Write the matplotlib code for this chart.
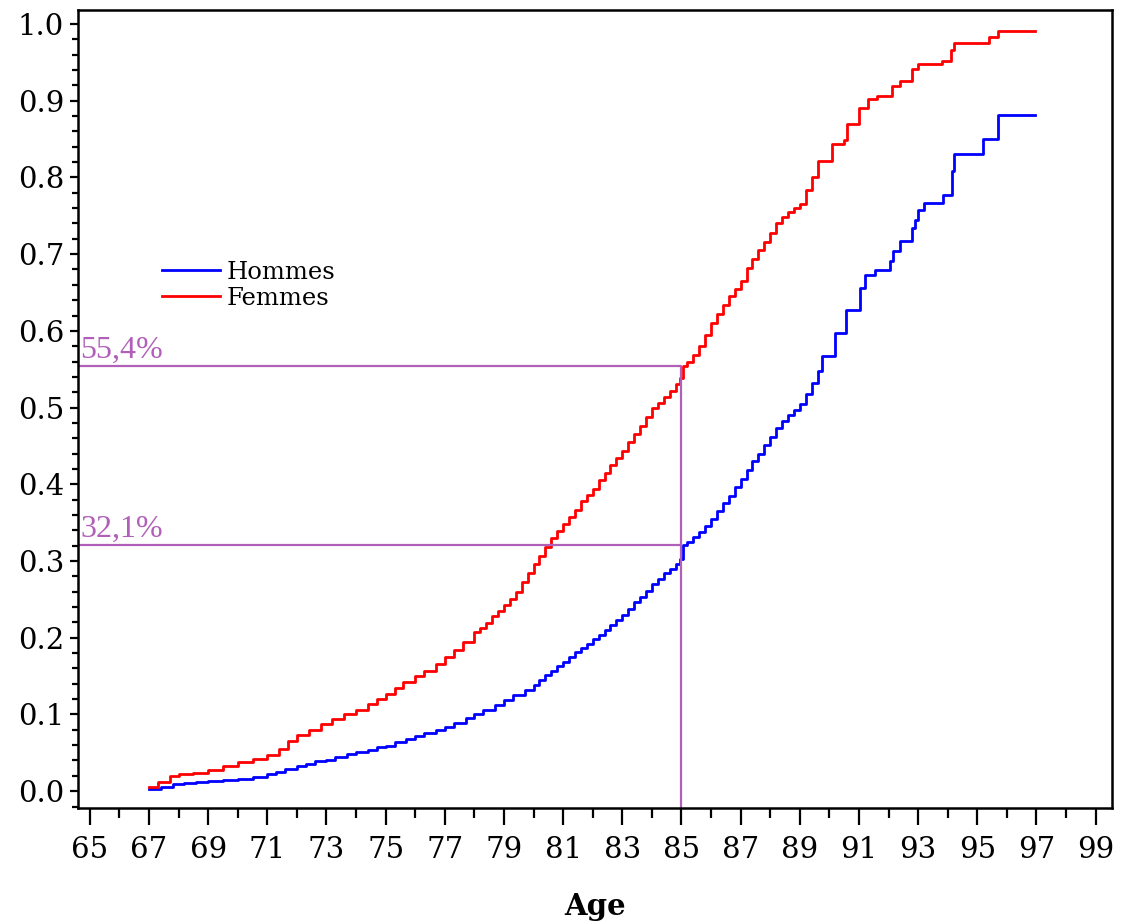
import numpy as np
import matplotlib.pyplot as plt
from matplotlib.ticker import MultipleLocator

# incidence cumulée par âge (lecture du graphique)
age_f = [67.0, 67.3, 67.7, 68.0, 68.5, 69.0, 69.5, 70.0, 70.5, 71.0, 71.4, 71.7,
         72.0, 72.4, 72.8, 73.2, 73.6, 74.0, 74.4, 74.7, 75.0, 75.3, 75.6, 76.0,
         76.3, 76.7, 77.0, 77.3, 77.6, 78.0, 78.2, 78.4, 78.6, 78.8, 79.0, 79.2,
         79.4, 79.6, 79.8, 80.0, 80.2, 80.4, 80.6, 80.8, 81.0, 81.2, 81.4, 81.6,
         81.8, 82.0, 82.2, 82.4, 82.6, 82.8, 83.0, 83.2, 83.4, 83.6, 83.8, 84.0,
         84.2, 84.4, 84.6, 84.8, 84.95, 85.05, 85.2, 85.4, 85.6, 85.8, 86.0, 86.2,
         86.4, 86.6, 86.8, 87.0, 87.2, 87.4, 87.6, 87.8, 88.0, 88.2, 88.4, 88.6,
         88.8, 89.0, 89.2, 89.4, 89.6, 90.1, 90.5, 90.6, 91.0, 91.3, 91.6, 92.1,
         92.4, 92.8, 93.0, 93.8, 94.1, 94.2, 95.4, 95.7, 96.95]
inc_f = [0.005, 0.012, 0.020, 0.022, 0.024, 0.027, 0.033, 0.038, 0.042, 0.047, 0.055, 0.065,
         0.073, 0.080, 0.087, 0.094, 0.100, 0.106, 0.113, 0.120, 0.127, 0.135, 0.142, 0.150,
         0.157, 0.166, 0.175, 0.184, 0.195, 0.207, 0.213, 0.219, 0.228, 0.235, 0.243, 0.251,
         0.260, 0.272, 0.284, 0.296, 0.306, 0.318, 0.330, 0.339, 0.348, 0.357, 0.367, 0.378,
         0.386, 0.394, 0.405, 0.415, 0.425, 0.434, 0.444, 0.455, 0.465, 0.476, 0.488, 0.499,
         0.506, 0.514, 0.522, 0.531, 0.538, 0.554, 0.560, 0.568, 0.580, 0.595, 0.610, 0.622,
         0.634, 0.645, 0.655, 0.665, 0.682, 0.694, 0.705, 0.716, 0.728, 0.740, 0.749, 0.755,
         0.760, 0.765, 0.783, 0.800, 0.822, 0.843, 0.849, 0.870, 0.891, 0.902, 0.906, 0.919,
         0.926, 0.941, 0.948, 0.952, 0.966, 0.975, 0.983, 0.991, 0.991]

age_h = [67.0, 67.4, 67.8, 68.2, 68.6, 69.0, 69.5, 70.0, 70.5, 71.0, 71.3, 71.6,
         72.0, 72.3, 72.6, 73.0, 73.3, 73.7, 74.0, 74.4, 74.7, 75.0, 75.3, 75.7,
         76.0, 76.3, 76.7, 77.0, 77.3, 77.7, 78.0, 78.3, 78.7, 79.0, 79.3, 79.7,
         80.0, 80.2, 80.4, 80.6, 80.8, 81.0, 81.2, 81.4, 81.6, 81.8, 82.0, 82.2,
         82.4, 82.6, 82.8, 83.0, 83.2, 83.4, 83.6, 83.8, 84.0, 84.2, 84.4, 84.6,
         84.8, 84.95, 85.05, 85.2, 85.4, 85.6, 85.8, 86.0, 86.2, 86.4, 86.6, 86.8,
         87.0, 87.2, 87.4, 87.6, 87.8, 88.0, 88.2, 88.4, 88.6, 88.8, 89.0, 89.2,
         89.4, 89.6, 89.75, 90.2, 90.55, 91.05, 91.2, 91.55, 92.05, 92.15, 92.4, 92.8,
         92.9, 93.0, 93.2, 93.85, 94.15, 94.2, 95.2, 95.7, 96.95]
inc_h = [0.003, 0.006, 0.009, 0.011, 0.012, 0.013, 0.014, 0.016, 0.019, 0.022, 0.025, 0.029,
         0.033, 0.036, 0.039, 0.041, 0.045, 0.048, 0.051, 0.054, 0.057, 0.059, 0.064, 0.068,
         0.072, 0.076, 0.080, 0.084, 0.089, 0.095, 0.100, 0.106, 0.112, 0.119, 0.125, 0.132,
         0.139, 0.145, 0.151, 0.157, 0.163, 0.169, 0.175, 0.181, 0.186, 0.192, 0.198, 0.204,
         0.210, 0.216, 0.223, 0.230, 0.238, 0.246, 0.253, 0.261, 0.270, 0.277, 0.284, 0.290,
         0.296, 0.302, 0.321, 0.325, 0.331, 0.338, 0.346, 0.355, 0.365, 0.375, 0.385, 0.396,
         0.407, 0.419, 0.430, 0.440, 0.451, 0.462, 0.473, 0.482, 0.490, 0.497, 0.505, 0.518,
         0.532, 0.548, 0.567, 0.597, 0.627, 0.656, 0.673, 0.679, 0.691, 0.704, 0.717, 0.734,
         0.745, 0.757, 0.766, 0.777, 0.809, 0.830, 0.850, 0.882, 0.882]

age_ref = 85
val_f = 0.554
val_h = 0.321
lab_f = '55,4%'
lab_h = '32,1%'

violet = '#b060b8'

fig = plt.figure(figsize=(11.3, 9.24), dpi=100)
ax = fig.add_axes([0.069, 0.1255, 0.915, 0.8635])

ax.step(age_h, inc_h, where='post', color='#0000ff', lw=2.0, label='Hommes')
ax.step(age_f, inc_f, where='post', color='#ff0000', lw=2.0, label='Femmes')

x0, x1 = 64.6, 99.55
y0, y1 = -0.022, 1.018
ax.plot([x0, age_ref, age_ref], [val_f, val_f, y0], color=violet, lw=1.6)
ax.plot([x0, age_ref], [val_h, val_h], color=violet, lw=1.6)
ax.text(64.68, val_f + 0.002, lab_f, color=violet, fontsize=23,
        family='Liberation Serif', va='bottom', ha='left')
ax.text(64.68, val_h + 0.002, lab_h, color=violet, fontsize=23,
        family='Liberation Serif', va='bottom', ha='left')

ax.set_xlim(x0, x1)
ax.set_ylim(y0, y1)
ax.xaxis.set_minor_locator(MultipleLocator(1))
ax.set_xticks(np.arange(65, 100, 2))
ax.yaxis.set_minor_locator(MultipleLocator(0.02))
ax.set_yticks(np.arange(0, 1.01, 0.1))
ax.set_yticklabels(['%.1f' % v for v in np.arange(0, 1.01, 0.1)])

for s in ax.spines.values():
    s.set_linewidth(1.8)
ax.tick_params(axis='x', which='major', length=12, width=1.6, pad=8,
               labelsize=21, labelfontfamily='DejaVu Serif')
ax.tick_params(axis='x', which='minor', length=7, width=1.6)
ax.tick_params(axis='y', which='major', length=6, width=1.6, pad=4,
               labelsize=21, labelfontfamily='DejaVu Serif')
ax.tick_params(axis='y', which='minor', length=4, width=1.6)

ax.set_xlabel('Age', fontsize=21, fontweight='bold', family='DejaVu Serif', labelpad=20)

ax.legend(loc='upper left', bbox_to_anchor=(162 / 1130, 1 - 261 / 924),
          bbox_transform=fig.transFigure, frameon=False,
          prop={'family': 'DejaVu Serif', 'size': 17.5},
          handlelength=2.4, handletextpad=0.25, labelspacing=0.12,
          borderpad=0, borderaxespad=0)

fig.savefig('out.png', dpi=100)
